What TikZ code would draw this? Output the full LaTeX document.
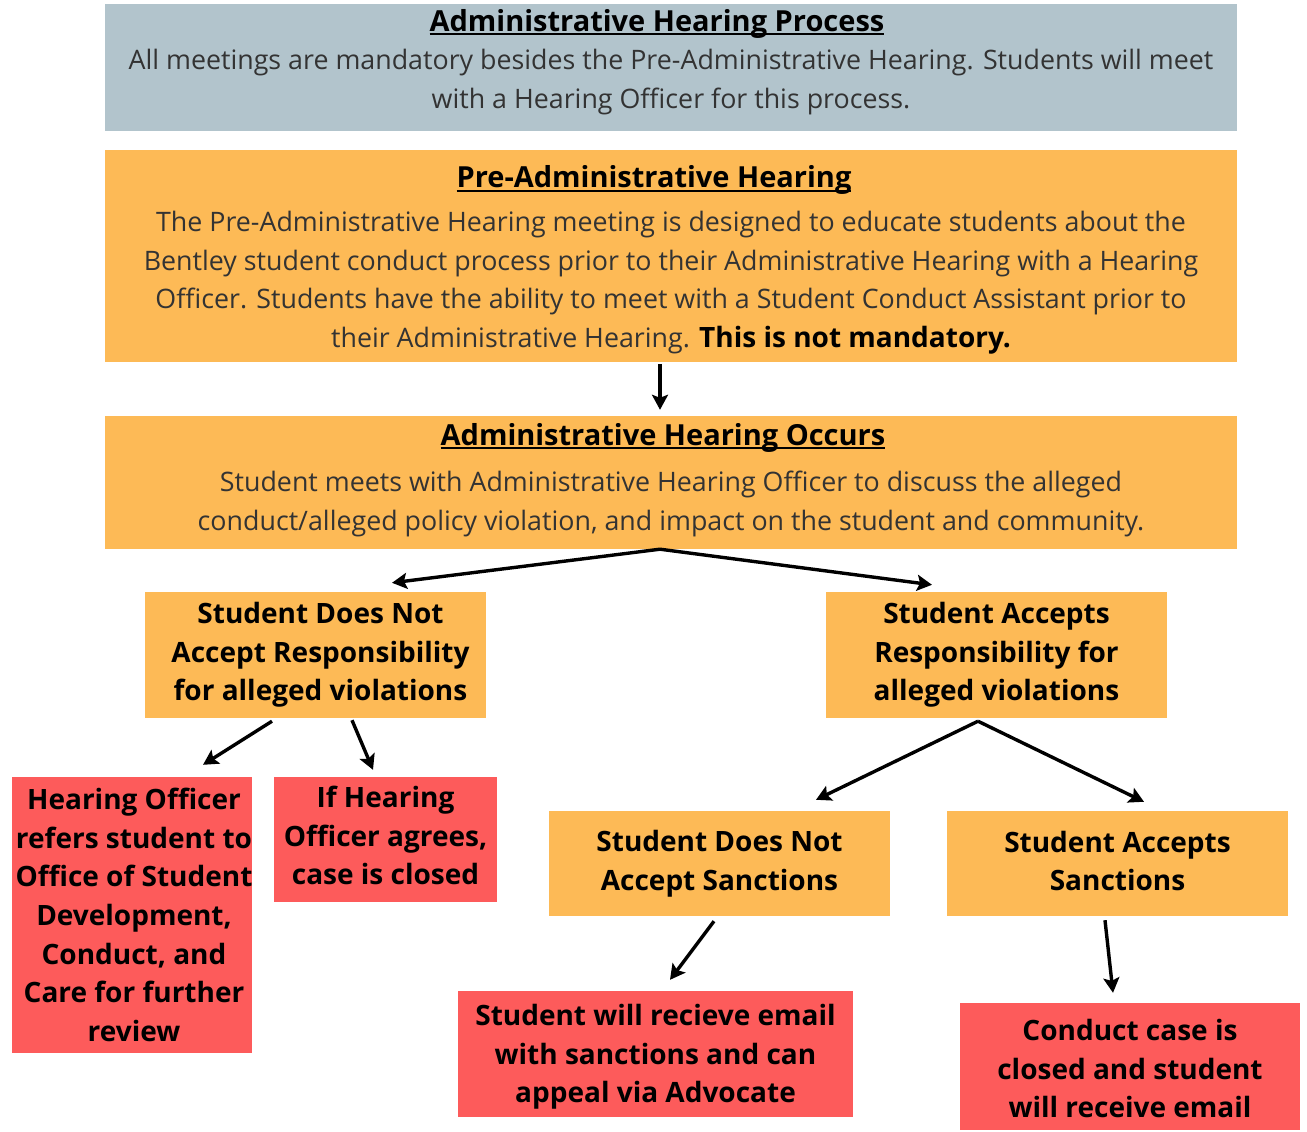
\documentclass[tikz,border=0pt]{standalone}
\usepackage{fontspec}
\setmainfont{Open Sans}
\usetikzlibrary{arrows.meta}
\definecolor{greybox}{HTML}{B2C4CC}
\definecolor{orangebox}{HTML}{FDBA56}
\definecolor{redbox}{HTML}{FD5B5B}
\definecolor{bodytxt}{HTML}{333333}
\newcommand\myul[1]{\setbox0\hbox{#1}\rlap{\rule[-4pt]{\wd0}{2pt}}\box0}
\newcommand\ttl[1]{{\fontsize{29}{38.7}\selectfont\bfseries\color{black}\myul{#1}}}
\tikzset{
  panel/.style={inner sep=0pt, draw=none},
  greyfill/.style={panel, fill=greybox},
  orangefill/.style={panel, fill=orangebox},
  redfill/.style={panel, fill=redbox},
  bodytext/.style={inner sep=0pt, align=center, text=bodytxt, font=\fontsize{26.8}{38.7}\selectfont},
  boldtext/.style={inner sep=0pt, align=center, text=black, font=\fontsize{28}{38.7}\selectfont\bfseries},
  arr/.style={line width=3.4pt, -{Stealth[length=15pt,width=16pt,inset=3pt]}}
}
\begin{document}
\begin{tikzpicture}[x=1pt,y=-1pt]
\useasboundingbox (0,0) rectangle (1307,1132);

% panels
\node[greyfill, minimum width=1132pt, minimum height=127pt] (proc) at (671,67.5) {};
\node[orangefill, minimum width=1132pt, minimum height=212pt] (pre) at (671,256) {};
\node[orangefill, minimum width=1132pt, minimum height=133pt] (occ) at (671,482.5) {};
\node[orangefill, minimum width=341pt, minimum height=126pt] (notacc) at (315.5,655) {};
\node[orangefill, minimum width=341pt, minimum height=126pt] (acc) at (996.5,655) {};
\node[redfill, minimum width=240pt, minimum height=276pt] (refer) at (132,915) {};
\node[redfill, minimum width=223pt, minimum height=125pt] (closed) at (385.5,839.5) {};
\node[orangefill, minimum width=341pt, minimum height=105pt] (nosanc) at (719.5,863.5) {};
\node[orangefill, minimum width=341pt, minimum height=105pt] (sanc) at (1117.5,863.5) {};
\node[redfill, minimum width=395pt, minimum height=126pt] (appeal) at (655.5,1054) {};
\node[redfill, minimum width=340pt, minimum height=127pt] (email) at (1130,1066.5) {};

% texts
\node[bodytext] (proc-t) at ([yshift=5.5pt]proc.center)
 {\hspace*{-28pt}\ttl{Administrative Hearing Process}\\
  All meetings are mandatory besides the Pre-Administrative Hearing. Students will meet\\
  with a Hearing Officer for this process.};
\node[bodytext] (pre-t) at ([yshift=-4pt]pre.center)
 {\hspace*{-34pt}\ttl{Pre-Administrative Hearing}\\[5pt]
  The Pre-Administrative Hearing meeting is designed to educate students about the\\
  Bentley student conduct process prior to their Administrative Hearing with a Hearing\\
  Officer. Students have the ability to meet with a Student Conduct Assistant prior to\\
  their Administrative Hearing. {\fontsize{28}{38.7}\selectfont\bfseries\color{black}This is not mandatory.}};
\node[bodytext] (occ-t) at ([yshift=2.5pt]occ.center)
 {\hspace*{-16pt}\ttl{Administrative Hearing Occurs}\\[8pt]
  Student meets with Administrative Hearing Officer to discuss the alleged\\
  conduct/alleged policy violation, and impact on the student and community.};
\node[boldtext] (notacc-t) at ([xshift=5pt]notacc.center)
 {Student Does Not\\Accept Responsibility\\for alleged violations};
\node[boldtext] (acc-t) at (acc.center)
 {Student Accepts\\Responsibility for\\alleged violations};
\node[boldtext] (refer-t) at ([xshift=2pt]refer.center)
 {Hearing Officer\\refers student to\\Office of Student\\Development,\\Conduct, and\\Care for further\\review};
\node[boldtext] (closed-t) at ([yshift=4pt]closed.center)
 {If Hearing\\Officer agrees,\\case is closed};
\node[boldtext] (nosanc-t) at (nosanc.center)
 {Student Does Not\\Accept Sanctions};
\node[boldtext] (sanc-t) at ([yshift=2.5pt]sanc.center)
 {Student Accepts\\Sanctions};
\node[boldtext] (appeal-t) at ([yshift=-3pt]appeal.center)
 {Student will recieve email\\with sanctions and can\\appeal via Advocate};
\node[boldtext] (email-t) at ([yshift=-2pt]email.center)
 {Conduct case is\\closed and student\\will receive email};

% connectors
\draw[arr] ([xshift=-11pt,yshift=-2pt]pre.south) -- ([xshift=-11pt,yshift=6pt]occ.north);
\draw[arr] ([xshift=-11pt]occ.south) -- ([xshift=76.5pt,yshift=9pt]notacc.north);
\draw[arr] ([xshift=-11pt]occ.south) -- ([xshift=-64.5pt,yshift=7pt]acc.north);
\draw[arr] ([xshift=-43.5pt,yshift=-3pt]notacc.south) -- ([xshift=71pt,yshift=12pt]refer.north);
\draw[arr] ([xshift=36.5pt,yshift=-2pt]notacc.south) -- ([xshift=-12.5pt,yshift=7pt]closed.north);
\draw[arr] ([xshift=-18.5pt,yshift=-3pt]acc.south) -- ([xshift=96.5pt,yshift=11pt]nosanc.north);
\draw[arr] ([xshift=-18.5pt,yshift=-3pt]acc.south) -- ([xshift=26.5pt,yshift=9pt]sanc.north);
\draw[arr] ([xshift=-5.5pt,yshift=-5pt]nosanc.south) -- ([xshift=14.5pt,yshift=11pt]appeal.north);
\draw[arr] ([xshift=-12.5pt,yshift=-4pt]sanc.south) -- ([xshift=-17pt,yshift=10pt]email.north);
\end{tikzpicture}
\end{document}
